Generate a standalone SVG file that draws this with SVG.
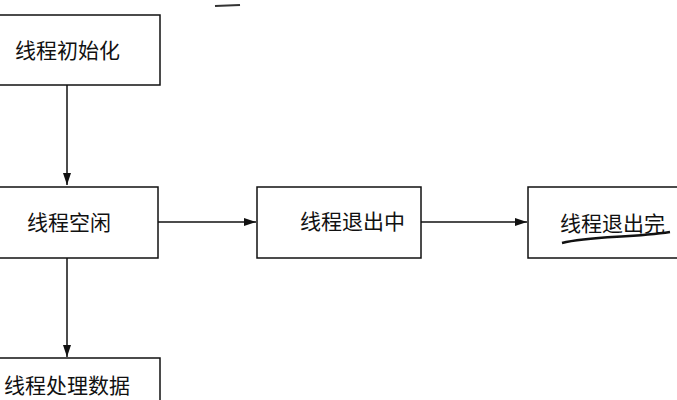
<svg xmlns="http://www.w3.org/2000/svg" width="677" height="400" viewBox="0 0 677 400">
<defs>
<style>
.box{fill:#fff;stroke:#111;stroke-width:1.5}
.t{font-family:"Noto Sans CJK SC",sans-serif;font-size:21px;fill:#111}
.c{stroke:#111;stroke-width:1.5;fill:none}
</style>
<marker id="a" markerWidth="12" markerHeight="8" refX="12" refY="4" orient="auto" markerUnits="userSpaceOnUse">
<path d="M0,0 L12,4 L0,8 Z" fill="#111"/>
</marker>
</defs>
<rect width="677" height="400" fill="#fff"/>
<path d="M215,6 L240,5" stroke="#333" stroke-width="2"/>
<g id="connectors">
<path class="c" d="M67,85 L67,185" marker-end="url(#a)"/>
<path class="c" d="M67,258 L67,357" marker-end="url(#a)"/>
<path class="c" d="M158,222 L256,222" marker-end="url(#a)"/>
<path class="c" d="M421,222 L527,222" marker-end="url(#a)"/>
</g>
<g id="n1"><rect class="box" x="-2" y="15" width="162" height="70"/><text class="t" x="15" y="58">线程初始化</text></g>
<g id="n2"><rect class="box" x="-2" y="187" width="160" height="71"/><text class="t" x="27" y="230">线程空闲</text></g>
<g id="n3"><rect class="box" x="257" y="187" width="164" height="71"/><text class="t" x="300" y="229">线程退出中</text></g>
<g id="n4"><rect class="box" x="528" y="187" width="160" height="71"/><text class="t" x="560" y="231">线程退出完</text>
<path d="M562,243 C590,236 630,238 670,232" stroke="#111" stroke-width="2.5" fill="none"/></g>
<g id="n5"><rect class="box" x="-2" y="358" width="162" height="60"/><text class="t" x="4" y="393">线程处理数据</text></g>
</svg>
